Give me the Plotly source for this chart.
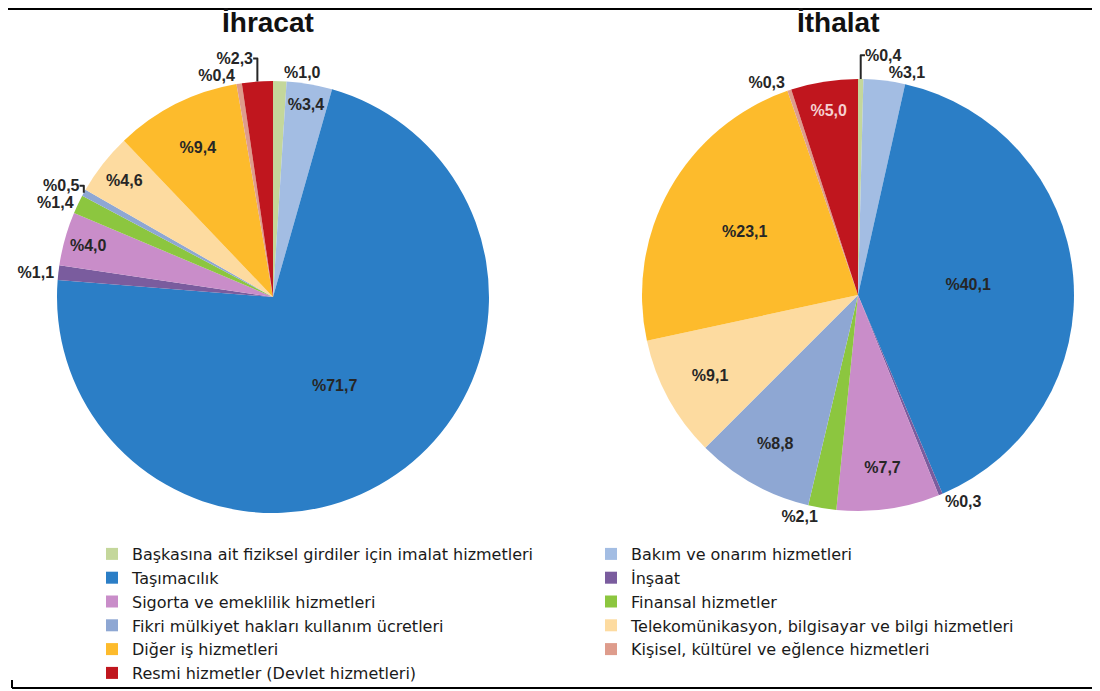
import plotly.graph_objects as go

categories = [
    "Başkasına ait fiziksel girdiler için imalat hizmetleri",
    "Bakım ve onarım hizmetleri",
    "Taşımacılık",
    "İnşaat",
    "Sigorta ve emeklilik hizmetleri",
    "Finansal hizmetler",
    "Fikri mülkiyet hakları kullanım ücretleri",
    "Telekomünikasyon, bilgisayar ve bilgi hizmetleri",
    "Diğer iş hizmetleri",
    "Kişisel, kültürel ve eğlence hizmetleri",
    "Resmi hizmetler (Devlet hizmetleri)",
]
ihracat = [1.0, 3.4, 71.7, 1.1, 4.0, 1.4, 0.5, 4.6, 9.4, 0.4, 2.3]
ithalat = [0.4, 3.1, 40.1, 0.3, 7.7, 2.1, 8.8, 9.1, 23.1, 0.3, 5.0]
titles = ["İhracat", "İthalat"]

colors = ["#C4D79B", "#A3BDE3", "#2B7EC6", "#7A5C9E", "#C98DC9", "#8CC63F",
          "#8EA7D3", "#FDDBA0", "#FDBB2C", "#DE9C8C", "#C0161E"]

pos_ihr = ["outside", "inside", "inside", "outside", "inside", "outside",
           "outside", "inside", "inside", "outside", "outside"]
pos_ith = ["outside", "outside", "inside", "outside", "inside", "outside",
           "inside", "inside", "inside", "outside", "inside"]

W, H = 1092, 683   # page body has an 8px margin


def px(x):
    return x / W


def py(y):
    return 1 - y / H


def fmt(v):
    return "<b>%" + f"{v:.1f}".replace(".", ",") + "</b>"


R = 216
pies = [
    (ihracat, pos_ihr, (265, 289), titles[0]),
    (ithalat, pos_ith, (850, 287), titles[1]),
]

fig = go.Figure()
for vals, pos, (cx, cy), name in pies:
    tcolors = ["#262626"] * len(vals)
    if name == "İthalat":
        tcolors[10] = "#F5D0D0"
    fig.add_trace(go.Pie(
        labels=categories, values=vals, text=[fmt(v) for v in vals],
        texttemplate="%{text}", textinfo="text", textposition=pos,
        insidetextorientation="horizontal",
        sort=False, direction="clockwise", rotation=0,
        marker=dict(colors=colors, line=dict(width=0)),
        insidetextfont=dict(family="Liberation Sans, Arial", size=16, color=tcolors),
        outsidetextfont=dict(family="Liberation Sans, Arial", size=16, color="#262626"),
        domain=dict(x=[px(cx - R), px(cx + R)], y=[py(cy + R), py(cy - R)]),
        name=name, hoverinfo="label+percent", automargin=False,
    ))

for xc, t in [(260, titles[0]), (830, titles[1])]:
    fig.add_annotation(x=px(xc), y=py(15), xref="paper", yref="paper",
                       xanchor="center", yanchor="middle",
                       text="<b>" + t + "</b>", showarrow=False,
                       font=dict(family="Liberation Sans, Arial", size=28, color="#111111"))

fig.add_shape(type="line", xref="paper", yref="paper", x0=0, x1=1, y0=py(1), y1=py(1),
              line=dict(color="black", width=2))
fig.add_shape(type="line", xref="paper", yref="paper", x0=px(4), x1=1, y0=py(680), y1=py(680),
              line=dict(color="black", width=2))
fig.add_shape(type="line", xref="paper", yref="paper", x0=px(4), x1=px(4), y0=py(672), y1=py(680),
              line=dict(color="black", width=2))

fig.update_layout(
    width=W, height=H,
    margin=dict(l=0, r=0, t=0, b=0, autoexpand=False),
    paper_bgcolor="white", plot_bgcolor="white",
    showlegend=True,
    legend=dict(orientation="h", x=px(84), y=py(529), xanchor="left", yanchor="top",
                entrywidth=454, traceorder="normal", bgcolor="rgba(0,0,0,0)",
                font=dict(family="DejaVu Sans", size=16, color="#1a1a1a")),
)
fig.write_html("out.html")
